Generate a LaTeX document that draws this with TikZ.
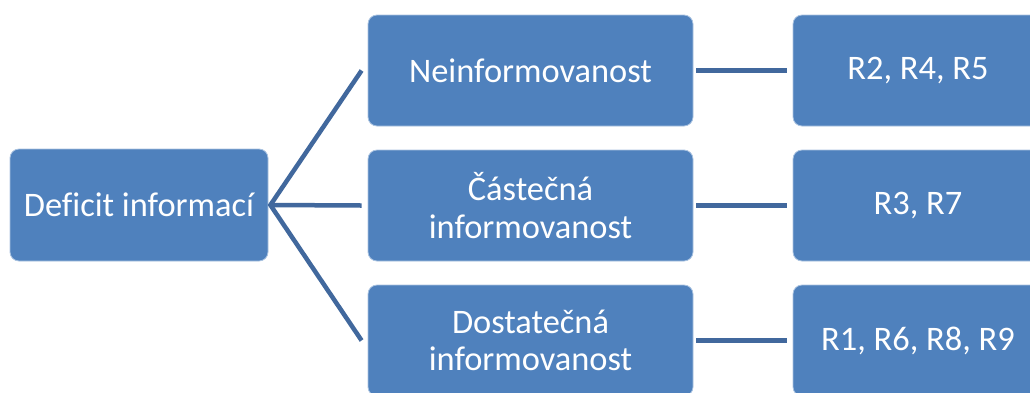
\documentclass[tikz,border=0pt]{standalone}
\usepackage{fontspec}
\setmainfont[Ligatures=NoCommon]{Carlito}
\definecolor{boxblue}{RGB}{79,129,189}
\definecolor{lineblue}{RGB}{65,104,157}
\definecolor{edgeblue}{RGB}{170,195,225}
\begin{document}
\begin{tikzpicture}[x=1pt,y=-1pt,
  box/.style={rectangle, rounded corners=9pt, fill=boxblue, draw=edgeblue, line width=0.8pt,
    text=white, align=center, inner sep=0pt, font=\fontsize{34.4}{37.5}\selectfont},
  conn/.style={draw=lineblue, line width=4.5pt}]
\useasboundingbox (0,0) rectangle (1030,392);
\clip (0,0) rectangle (1030,392);
\fill[white] (0,0) rectangle (1030,392);
\node[box, minimum width=258pt, minimum height=112pt] (L) at (139,205) {Deficit informací};
\node[box, minimum width=325pt, minimum height=111pt] (M1) at (530.5,70.5) {Neinformovanost};
\node[box, minimum width=325pt, minimum height=111pt] (M2) at (530.5,205.5) {Částečná\\informovanost};
\node[box, minimum width=325pt, minimum height=111pt] (M3) at (530.5,340.5) {Dostatečná\\informovanost};
\node[box, minimum width=250pt, minimum height=111pt] (R1) at (918,70.5) {R2, R4, R5};
\node[box, minimum width=250pt, minimum height=111pt] (R2) at (918,205.5) {R3, R7};
\node[box, minimum width=250pt, minimum height=111pt] (R3) at (918,340.5) {R1, R6, R8, R9};
\coordinate (J) at ([xshift=2pt]L.east);
\draw[conn] ([xshift=-6pt]M1.west) -- (J) -- ([xshift=-6pt]M3.west);
\draw[conn] (J) -- ([xshift=-6pt]M2.west);
\draw[conn] ([xshift=3pt]M1.east) -- ([xshift=-6pt]R1.west);
\draw[conn] ([xshift=3pt]M2.east) -- ([xshift=-6pt]R2.west);
\draw[conn] ([xshift=3pt]M3.east) -- ([xshift=-6pt]R3.west);
\end{tikzpicture}
\end{document}
